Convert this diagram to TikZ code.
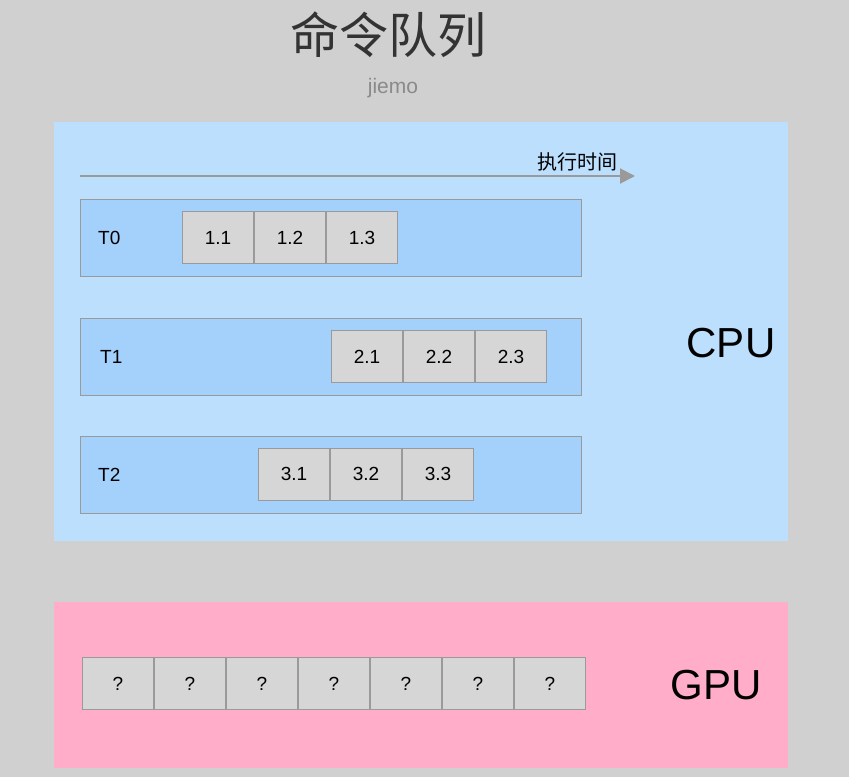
\documentclass[tikz,border=0pt]{standalone}
\usepackage{fontspec}
\setmainfont{Liberation Sans}
\newfontfamily\cjk{Noto Sans CJK SC}
\usepackage{tikz}
\usetikzlibrary{positioning, arrows.meta}
\usepackage{xcolor}
\definecolor{canvas}{HTML}{D0D0D0}
\definecolor{cpublue}{HTML}{BBDFFD}
\definecolor{laneblue}{HTML}{A3D1FC}
\definecolor{gpupink}{HTML}{FFADC9}
\definecolor{taskgray}{HTML}{D6D6D6}
\definecolor{edgegray}{HTML}{9A9A9A}
\definecolor{titlegray}{HTML}{333333}
\definecolor{subgray}{HTML}{8A8A8A}

\begin{document}
\begin{tikzpicture}[
    x=1pt, y=-1pt,
    region/.style={draw=none, minimum width=734pt, inner sep=0pt},
    lane/.style={draw=edgegray, line width=1pt, fill=laneblue, minimum width=501pt, minimum height=77pt, inner sep=0pt},
    task/.style={draw=edgegray, line width=1pt, fill=taskgray, minimum width=71pt, minimum height=52pt, inner sep=0pt, font=\fontsize{19}{23}\selectfont},
    lanelabel/.style={inner sep=0pt, anchor=west, font=\fontsize{19}{23}\selectfont},
    unit/.style={inner sep=0pt, font=\fontsize{42}{50}\selectfont},
    arr/.style={-{Triangle[length=15pt, width=15pt]}, line width=2pt, draw=edgegray}
]

% Canvas
\useasboundingbox (0,0) rectangle (849,777);
\fill[canvas] (0,0) rectangle (849,777);

% Title
\node[text=titlegray, font=\cjk\fontsize{49}{57}\selectfont] (title) at (388,35) {命令队列};
\node[text=subgray, font=\fontsize{21}{25}\selectfont] (author) at (393,88) {jiemo};

% CPU region
\node[region, fill=cpublue, minimum height=419pt] (cpu) at (421,331.5) {};
\node[unit] (cpulabel) at (731,343) {CPU};

% Time axis
\coordinate (tstart) at (80,176);
\coordinate (tend) at (635,176);
\draw[arr] (tstart) -- (tend);
\node[font=\cjk\fontsize{20}{24}\selectfont, anchor=east] (tlabel) at (621,162) {执行时间};

% Thread T0
\node[lane] (t0) at (331,238) {};
\node[lanelabel, right=18pt of t0.west] (t0label) {T0};
\node[task] (a1) at (218,237.5) {1.1};
\node[task, right=0pt of a1] (a2) {1.2};
\node[task, right=0pt of a2] (a3) {1.3};

% Thread T1
\node[lane] (t1) at (331,357) {};
\node[lanelabel, right=20pt of t1.west] (t1label) {T1};
\node[task] (b1) at (367,356.5) {2.1};
\node[task, right=0pt of b1] (b2) {2.2};
\node[task, right=0pt of b2] (b3) {2.3};

% Thread T2
\node[lane] (t2) at (331,475) {};
\node[lanelabel, right=18pt of t2.west] (t2label) {T2};
\node[task] (c1) at (294,474) {3.1};
\node[task, right=0pt of c1] (c2) {3.2};
\node[task, right=0pt of c2] (c3) {3.3};

% GPU region
\node[region, fill=gpupink, minimum height=166pt] (gpu) at (421,685) {};
\node[unit] (gpulabel) at (716,685) {GPU};

% GPU queue
\node[task] (g1) at (118,683.5) {?};
\node[task, right=0pt of g1] (g2) {?};
\node[task, right=0pt of g2] (g3) {?};
\node[task, right=0pt of g3] (g4) {?};
\node[task, right=0pt of g4] (g5) {?};
\node[task, right=0pt of g5] (g6) {?};
\node[task, right=0pt of g6] (g7) {?};

\end{tikzpicture}
\end{document}
